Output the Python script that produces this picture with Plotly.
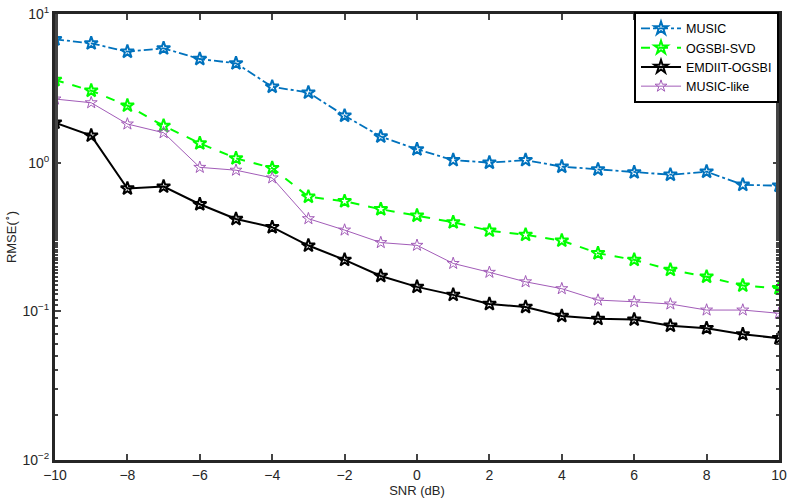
import plotly.graph_objects as go

snr = list(range(-10, 11))
music = [6.76, 6.35, 5.58, 5.88, 4.98, 4.66, 3.24, 2.96, 2.07, 1.50, 1.23,
         1.04, 1.0, 1.04, 0.94, 0.90, 0.86, 0.83, 0.87, 0.71, 0.70]
ogsbi_svd = [3.6, 3.05, 2.42, 1.77, 1.35, 1.07, 0.92, 0.59, 0.55, 0.486, 0.44,
             0.397, 0.349, 0.327, 0.299, 0.246, 0.222, 0.190, 0.171, 0.149, 0.143]
emdiit = [1.86, 1.52, 0.67, 0.69, 0.525, 0.418, 0.368, 0.277, 0.222, 0.173, 0.146,
          0.129, 0.112, 0.107, 0.093, 0.089, 0.088, 0.080, 0.077, 0.070, 0.066]
music_like = [2.68, 2.53, 1.82, 1.59, 0.93, 0.89, 0.79, 0.42, 0.352, 0.29, 0.278,
              0.21, 0.183, 0.158, 0.142, 0.119, 0.116, 0.112, 0.102, 0.102, 0.097]

x_ticks = list(range(-10, 11, 2))
y_tickvals = [0.01, 0.1, 1, 10]
y_ticktext = ["10<sup>\u22122</sup>", "10<sup>\u22121</sup>", "10<sup>0</sup>", "10<sup>1</sup>"]

font = "Liberation Sans, Arial, sans-serif"

fig = go.Figure()
fig.add_trace(go.Scatter(x=snr, y=music, name="MUSIC", mode="lines+markers",
                         line=dict(color="#0072BD", width=1.8, dash="dashdot"),
                         marker=dict(symbol="star-open", size=10, color="#0072BD", line=dict(width=2))))
fig.add_trace(go.Scatter(x=snr, y=ogsbi_svd, name="OGSBI-SVD", mode="lines+markers",
                         line=dict(color="#00FF00", width=2, dash="dash"),
                         marker=dict(symbol="star-open", size=10, color="#00FF00", line=dict(width=2))))
fig.add_trace(go.Scatter(x=snr, y=emdiit, name="EMDIIT-OGSBI", mode="lines+markers",
                         line=dict(color="#000000", width=2),
                         marker=dict(symbol="star-open", size=10, color="#000000", line=dict(width=2))))
fig.add_trace(go.Scatter(x=snr, y=music_like, name="MUSIC-like", mode="lines+markers",
                         line=dict(color="#A25CB8", width=1),
                         marker=dict(symbol="star-open", size=9, color="#A25CB8", line=dict(width=1))))

fig.update_layout(
    width=795, height=503,
    margin=dict(l=55, r=16, t=14, b=43),
    paper_bgcolor="white", plot_bgcolor="white",
    font=dict(family=font, size=14, color="#262626"),
    showlegend=True,
    legend=dict(x=1, y=1.005, xanchor="right", yanchor="top",
                bgcolor="white", bordercolor="#000000", borderwidth=2,
                font=dict(size=12.5, color="#000000"), tracegroupgap=0,
                itemwidth=40),
)
fig.update_xaxes(range=[-10, 10], tickvals=x_ticks, ticks="inside", ticklen=6, tickwidth=2,
                 showline=True, linecolor="#262626", linewidth=3, mirror="ticks",
                 showgrid=False, zeroline=False, automargin=False,
                 title=dict(text="SNR (dB)", font=dict(size=13), standoff=4),
                 tickfont=dict(size=14))
fig.update_yaxes(type="log", range=[-2, 1], tickvals=y_tickvals, ticktext=y_ticktext,
                 ticks="inside", ticklen=6, tickwidth=2,
                 minor=dict(ticks="inside", ticklen=3, tickwidth=2, showgrid=False),
                 showline=True, linecolor="#262626", linewidth=3, mirror="ticks",
                 showgrid=False, zeroline=False, automargin=False,
                 title=dict(text="RMSE(<sup>\u2218</sup>)", font=dict(size=13), standoff=3),
                 tickfont=dict(size=14))

fig.write_html("out.html")
